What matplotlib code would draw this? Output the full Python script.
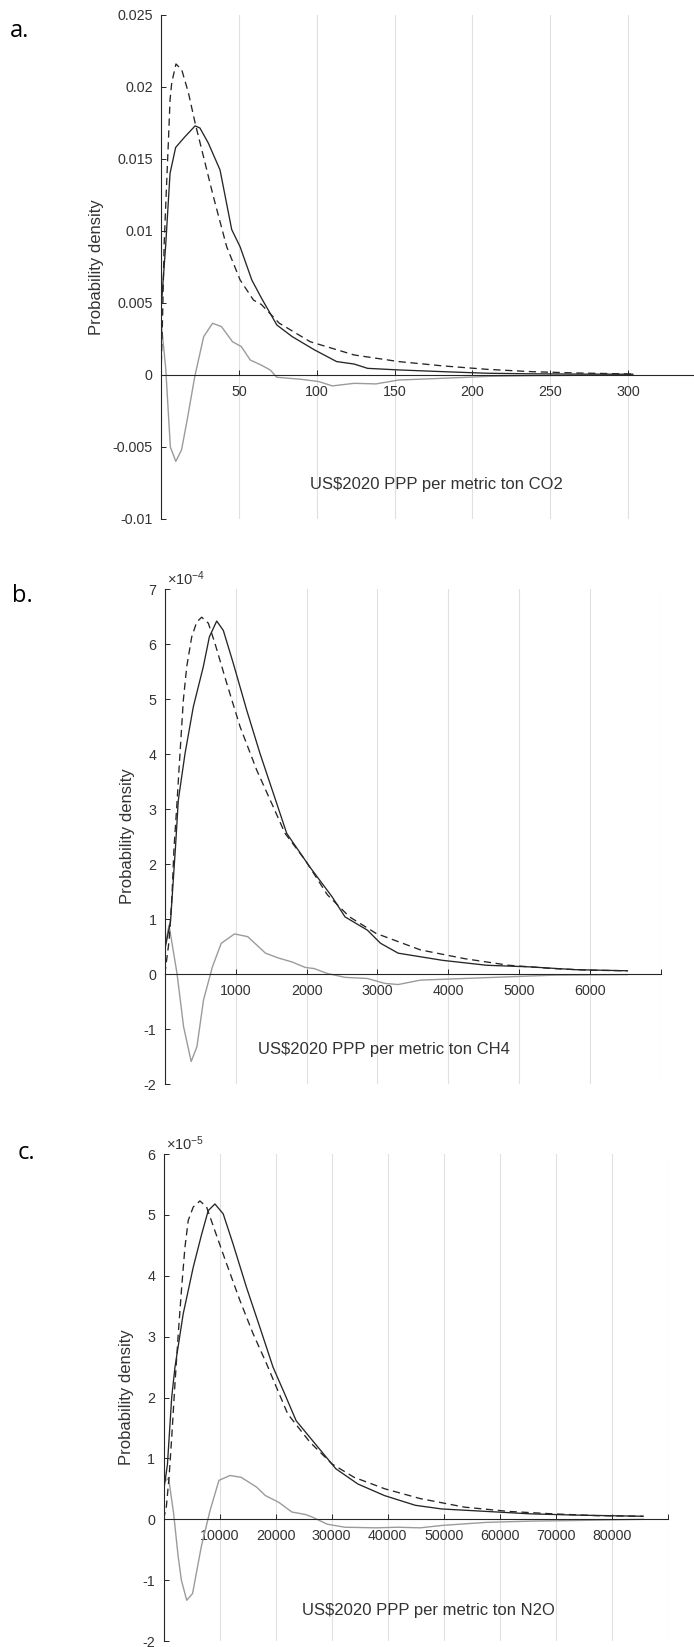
import matplotlib
matplotlib.use('Agg')
import matplotlib.pyplot as plt

# fonts: Liberation Sans stands in for Arial (MATLAB default)
plt.rcParams['font.family'] = ['Liberation Sans', 'DejaVu Sans']
plt.rcParams['mathtext.fontset'] = 'custom'
plt.rcParams['mathtext.rm'] = 'Liberation Sans'
plt.rcParams['mathtext.it'] = 'Liberation Sans:italic'

# ---- panel a : CO2 (density) ----
a_solid_x = [0, 3, 5.8, 9.4, 15, 21.9, 25, 30.4, 37.9, 45.4, 50.8, 58.3, 64.7, 74.4, 84.3,
             98.6, 112.8, 124, 132.7, 152.7, 181, 209.6, 238, 270, 303]
a_solid_y = [0.0045, 0.009, 0.014, 0.0158, 0.0165, 0.0173, 0.01715, 0.0161, 0.01424, 0.0101,
             0.0089, 0.0066, 0.0053, 0.00347, 0.00266, 0.00174, 0.00093, 0.00076, 0.00046,
             0.00035, 0.00023, 0.00012, 0.00008, 0.00006, 0.00005]
a_dash_x = [0, 1, 2, 3.6, 4.7, 5.8, 6.9, 9.6, 13.3, 17.6, 21.9, 27.2, 33.6, 42.2, 50.8, 59.4,
            64.4, 75.9, 95.8, 124, 152.7, 181, 209.6, 238, 266, 302]
a_dash_y = [0, 0.004, 0.009, 0.0133, 0.0161, 0.0191, 0.0203, 0.0216, 0.0212, 0.0196, 0.0175,
            0.0152, 0.0124, 0.0089, 0.0066, 0.0052, 0.0049, 0.0036, 0.00231, 0.00139, 0.00093,
            0.00063, 0.00039, 0.00023, 0.00014, 0.00007]
a_grey_x = [0, 3, 6, 9.5, 13.2, 17, 21.7, 27.4, 33.1, 38.8, 45.9, 51.6, 57.3, 64.3, 70.1, 74.4,
            90, 101.4, 110, 124, 138, 152.7, 181, 209.6, 238, 270, 303]
a_grey_y = [0.0038, 0.0005, -0.005, -0.006, -0.0052, -0.003, -0.0001, 0.00266, 0.00359, 0.00336,
            0.00231, 0.00197, 0.00104, 0.00069, 0.00035, -0.00016, -0.0003, -0.00046, -0.00076,
            -0.00058, -0.00062, -0.00035, -0.00023, -0.0001, -0.00005, -0.00002, 0]
a_yticks = [-0.01, -0.005, 0, 0.005, 0.01, 0.015, 0.02, 0.025]
a_ylabels = ['-0.01', '-0.005', '0', '0.005', '0.01', '0.015', '0.02', '0.025']
a_xticks = [0, 50, 100, 150, 200, 250, 300, 350]

# ---- panel b : CH4 (density x 1e-4) ----
b_solid_x = [0, 80, 150, 190, 285, 402, 543, 628, 732, 825, 966, 1155, 1343, 1530, 1719, 2044,
             2357, 2542, 2856, 3043, 3292, 3917, 4541, 5165, 5790, 6525]
b_solid_y = [0.45, 0.95, 2.3, 3.16, 4.01, 4.86, 5.59, 6.13, 6.42, 6.25, 5.65, 4.8, 4.01, 3.29,
             2.56, 1.95, 1.41, 1.04, 0.8, 0.56, 0.38, 0.25, 0.16, 0.13, 0.08, 0.06]
b_dash_x = [0, 60, 100, 130, 168, 214, 261, 309, 379, 450, 520, 614, 708, 873, 1061, 1296, 1530,
            1695, 1982, 2294, 2606, 2979, 3605, 4229, 4852, 5476, 6000, 6525]
b_dash_y = [0, 0.6, 1.4, 2.3, 3.04, 4.01, 4.98, 5.59, 6.13, 6.4, 6.49, 6.38, 6.01, 5.29, 4.5,
            3.71, 3.04, 2.56, 2.07, 1.44, 1.04, 0.74, 0.44, 0.28, 0.16, 0.10, 0.07, 0.06]
b_grey_x = [0, 59, 172, 265, 372, 453, 546, 671, 796, 983, 1170, 1420, 1607, 1795, 1982, 2107,
            2294, 2543, 2856, 3106, 3292, 3605, 4229, 4852, 5476, 6525]
b_grey_y = [0.5, 0.89, 0.01, -0.96, -1.59, -1.32, -0.47, 0.13, 0.56, 0.73, 0.68, 0.38, 0.29,
            0.22, 0.12, 0.10, 0.01, -0.06, -0.08, -0.17, -0.19, -0.11, -0.08, -0.05, -0.02, -0.01]
b_yticks = [-2, -1, 0, 1, 2, 3, 4, 5, 6, 7]
b_xticks = [0, 1000, 2000, 3000, 4000, 5000, 6000, 7000]

# ---- panel c : N2O (density x 1e-5) ----
c_solid_x = [0, 700, 1459, 2046, 3523, 5302, 6797, 7972, 9164, 10641, 12420, 14804, 17171,
             19537, 21620, 23660, 27600, 30750, 34680, 39420, 44940, 49660, 57540, 65410,
             73280, 85570]
c_solid_y = [0.45, 0.9, 2.0, 2.5, 3.38, 4.14, 4.68, 5.07, 5.18, 5.02, 4.52, 3.81, 3.16, 2.5,
             2.06, 1.62, 1.18, 0.83, 0.58, 0.39, 0.23, 0.17, 0.13, 0.09, 0.07, 0.05]
c_dash_x = [0, 500, 1000, 1500, 2046, 2633, 3238, 3826, 4413, 5302, 6495, 7687, 9164, 11246,
            13612, 15979, 18363, 20142, 22170, 26100, 30060, 34000, 39520, 45830, 53700,
            61560, 69430, 77300, 85570]
c_dash_y = [0, 0.2, 0.7, 1.4, 2.23, 3.05, 3.81, 4.47, 4.91, 5.13, 5.23, 5.13, 4.74, 4.2, 3.6,
            3.05, 2.56, 2.17, 1.73, 1.27, 0.91, 0.69, 0.5, 0.34, 0.2, 0.13, 0.09, 0.06, 0.05]
c_grey_x = [0, 900, 1800, 2600, 3190, 4140, 5180, 6740, 8320, 9890, 11870, 13850, 16600, 18180,
            20550, 22900, 25270, 26470, 29200, 32360, 37890, 41820, 45780, 49720, 57600,
            65440, 73300, 85570]
c_grey_y = [0.6, 0.68, 0.1, -0.6, -1.0, -1.33, -1.22, -0.45, 0.15, 0.64, 0.72, 0.69, 0.53, 0.39,
            0.28, 0.12, 0.08, 0.04, -0.08, -0.13, -0.14, -0.13, -0.14, -0.1, -0.05, -0.03,
            -0.02, 0]
c_yticks = [-2, -1, 0, 1, 2, 3, 4, 5, 6]
c_xticks = [0, 10000, 20000, 30000, 40000, 50000, 60000, 70000, 80000, 90000]

INK = '#262626'
TXT = '#333333'

fig = plt.figure(figsize=(6.94, 16.47), dpi=100)


def panel(rect, sx, sy, dx, dy, gx, gy, xticks, yticks, ylabels, xlabel, xlab_pos, expo=None):
    ax = fig.add_axes(rect)
    # grey difference, dashed fit, solid empirical
    ax.plot(gx, gy, color='#9b9b9b', lw=1.0)
    ax.plot(dx, dy, color=INK, lw=0.95, linestyle=(0, (5.5, 3.5)))
    ax.plot(sx, sy, color=INK, lw=0.95)

    ax.set_xlim(xticks[0], xticks[-1])
    ax.set_ylim(yticks[0], yticks[-1])
    ax.set_xticks(xticks)
    ax.set_xticklabels([''] + [str(t) for t in xticks[1:-1]] + [''])
    ax.set_yticks(yticks)
    ax.set_yticklabels(ylabels)

    # MATLAB style: x axis through the origin, only vertical grid lines
    ax.spines['top'].set_visible(False)
    ax.spines['right'].set_visible(False)
    ax.spines['bottom'].set_position(('data', 0))
    for s in ('left', 'bottom'):
        ax.spines[s].set_color('#262626')
        ax.spines[s].set_linewidth(0.8)
    ax.xaxis.grid(True, color='#e0e0e0', lw=0.8)
    ax.set_axisbelow(True)
    ax.tick_params(direction='in', length=3.5, width=0.7, colors='#262626',
                   labelcolor=TXT, labelsize=10.3)
    ax.tick_params(axis='x', pad=7)
    ax.tick_params(axis='y', pad=6)
    ax.set_facecolor('none')

    ax.set_ylabel('Probability density', fontsize=12, color=TXT, labelpad=6)
    ax.text(xlab_pos[0], xlab_pos[1], xlabel, transform=ax.transAxes, ha='center',
            va='center', fontsize=12, color=TXT)
    if expo is not None:
        ax.text(0.005, 1.003, r'$\times10^{%d}$' % expo, transform=ax.transAxes, ha='left',
                va='bottom', fontsize=10.5, color=TXT)
    return ax


panel([0.2320, 0.6849, 0.7853, 0.3060], a_solid_x, a_solid_y, a_dash_x, a_dash_y,
      a_grey_x, a_grey_y, a_xticks, a_yticks, a_ylabels,
      'US$2020 PPP per metric ton CO2', (0.505, 0.0675))

panel([0.2375, 0.3418, 0.7150, 0.3005], b_solid_x, b_solid_y, b_dash_x, b_dash_y,
      b_grey_x, b_grey_y, b_xticks, b_yticks, [str(t) for t in b_yticks],
      'US$2020 PPP per metric ton CH4', (0.442, 0.0707), expo=-4)

panel([0.2356, 0.0036, 0.7269, 0.2957], c_solid_x, c_solid_y, c_dash_x, c_dash_y,
      c_grey_x, c_grey_y, c_xticks, c_yticks, [str(t) for t in c_yticks],
      'US$2020 PPP per metric ton N2O', (0.526, 0.0637), expo=-5)

# panel letters
H = 1647.0
W = 694.0
for lab, px, py in [('a.', 10, 37), ('b.', 12, 602), ('c.', 18, 1159)]:
    fig.text(px / W, 1 - py / H, lab, fontsize=17, family=['Open Sans', 'DejaVu Sans'],
             va='baseline', ha='left', color='black')

fig.savefig('out.png', dpi=100)
